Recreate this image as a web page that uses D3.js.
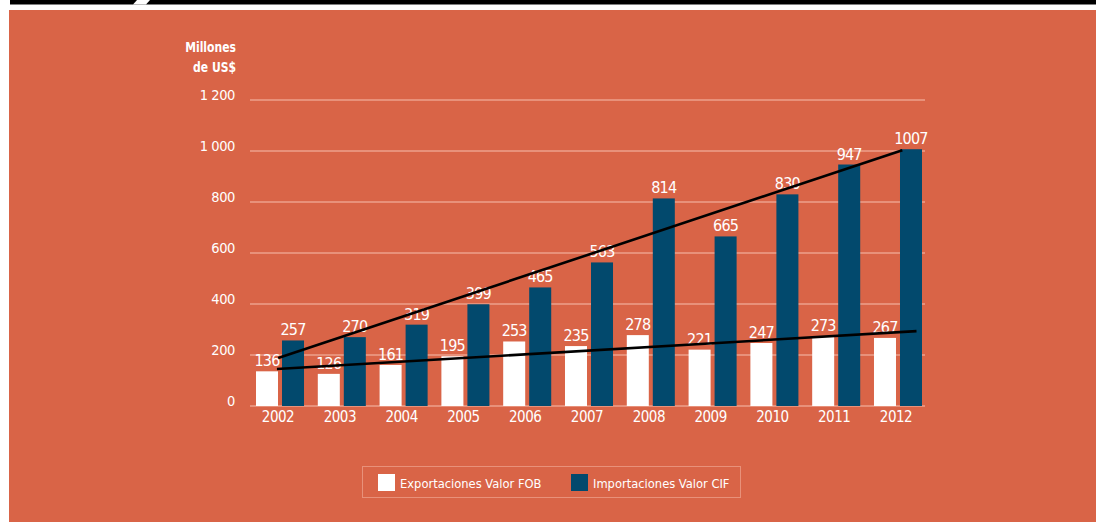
<!DOCTYPE html>
<html>
<head>
<meta charset="utf-8">
<script src="https://cdn.jsdelivr.net/npm/d3@7"></script>
<style>
  html, body { margin: 0; padding: 0; background: #ffffff; }
  svg { display: block; }
  text { font-family: "Liberation Sans Narrow", "DejaVu Sans Condensed", "Roboto", sans-serif; fill: #ffffff; }
</style>
</head>
<body>
<svg id="chart" width="1096" height="522"></svg>
<script>
// ---- data ----
const years = ["2002","2003","2004","2005","2006","2007","2008","2009","2010","2011","2012"];
const exportaciones = [136,126,161,195,253,235,278,221,247,273,267];
const importaciones = [257,270,319,399,465,563,814,665,830,947,1007];
const seriesNames = ["Exportaciones Valor FOB", "Importaciones Valor CIF"];
const yTicks = [0,200,400,600,800,1000,1200];
const yTickLabels = ["0","200","400","600","800","1 000","1 200"];

// ---- styles ----
const ORANGE = "#D96447";
const NAVY = "#02496D";
const GRID = "#E8917A";
const colors = ["#ffffff", NAVY];

const svg = d3.select("#chart");

// page frame
svg.append("rect").attr("x",0).attr("y",0).attr("width",1096).attr("height",522).attr("fill","#fff");
svg.append("rect").attr("x",10).attr("y",0).attr("width",1086).attr("height",4.5).attr("fill","#000");
svg.append("path").attr("d","M137,0 L150,0 L146,4.5 L133,4.5 Z").attr("fill","#fff");
svg.append("rect").attr("x",9).attr("y",10).attr("width",1087).attr("height",512).attr("fill",ORANGE);

// scales
const x = d3.scaleBand().domain(years).range([256, 922]).paddingInner(0.223).paddingOuter(0);
const xs = d3.scaleBand().domain([0,1]).range([0, x.bandwidth()]).paddingInner(0.154).paddingOuter(0);
const y = d3.scaleLinear().domain([0, 1200]).range([406, 100]);

// grid
const grid = svg.append("g");
grid.selectAll("line").data(yTicks).join("line")
  .attr("x1", 250).attr("x2", 925)
  .attr("y1", d => y(d)).attr("y2", d => y(d))
  .attr("stroke", GRID).attr("stroke-width", 2);

// y axis labels
const yAxis = d3.axisLeft(y).tickValues(yTicks).tickFormat((d,i) => yTickLabels[i]).tickSize(0).tickPadding(0);
const ya = svg.append("g").attr("transform","translate(235,0)").call(yAxis);
ya.select(".domain").remove();
ya.selectAll("text").style("font-size","14.5px").attr("dy","-0.05em").style("fill","#fff").style("letter-spacing","-0.4px");

// axis title
const title = svg.append("text").attr("text-anchor","end").style("font-size","14px").style("font-weight","bold")
  .attr("transform","translate(236,0) scale(0.86,1)");
title.append("tspan").attr("x",0).attr("y",52).text("Millones");
title.append("tspan").attr("x",0).attr("y",72).text("de US$");

// bars
const rows = years.map((yr,i) => ({year: yr, vals: [exportaciones[i], importaciones[i]]}));
const groups = svg.append("g").selectAll("g").data(rows).join("g")
  .attr("transform", d => `translate(${x(d.year)},0)`);
groups.selectAll("rect").data(d => d.vals).join("rect")
  .attr("x", (d,i) => xs(i)).attr("width", xs.bandwidth())
  .attr("y", d => y(d)).attr("height", d => y(0) - y(d))
  .attr("fill", (d,i) => colors[i]);

// trend lines (least squares)
function fit(vals){
  const n = vals.length, xm = (n-1)/2, ym = d3.mean(vals);
  let sxy=0, sxx=0;
  vals.forEach((v,i)=>{ sxy += (i-xm)*(v-ym); sxx += (i-xm)*(i-xm); });
  const b = sxy/sxx; return {a: ym - b*xm, b};
}
const step = x.step();
const c0 = x(years[0]) + x.bandwidth()/2;
function trend(vals, t0, t1){
  const f = fit(vals);
  return [[c0 + t0*step, y(f.a + f.b*t0)], [c0 + t1*step, y(f.a + f.b*t1)]];
}
const line = d3.line();
svg.append("path").attr("d", line(trend(exportaciones, -0.05, 10.3))).attr("stroke","#000").attr("stroke-width",2.6).attr("fill","none");
svg.append("path").attr("d", line(trend(importaciones, -0.03, 10.07))).attr("stroke","#000").attr("stroke-width",2.6).attr("fill","none");

// value labels
groups.selectAll("text.val").data(d => d.vals).join("text").attr("class","val")
  .attr("x", (d,i) => xs(i) + xs.bandwidth()/2)
  .attr("y", d => y(d) - 5)
  .attr("text-anchor","middle").style("font-size","16px").style("letter-spacing","-0.8px")
  .text(d => d);

// x labels
const xAxis = d3.axisBottom(x).tickSize(0).tickPadding(0);
const xa = svg.append("g").attr("transform","translate(-2,411)").call(xAxis);
xa.select(".domain").remove();
xa.selectAll("text").style("font-size","15px").attr("dy","0.75em").style("fill","#fff").style("letter-spacing","-0.5px");

// legend
const lg = svg.append("g");
lg.append("rect").attr("x",362.5).attr("y",466.5).attr("width",378).attr("height",31)
  .attr("fill","none").attr("stroke",GRID).attr("stroke-width",1);
const legX = [378, 571];
seriesNames.forEach((name,i) => {
  lg.append("rect").attr("x",legX[i]).attr("y",474).attr("width",17).attr("height",17).attr("fill",colors[i]);
  lg.append("text").attr("x",legX[i]+22).attr("y",487.5).style("font-size","12.8px").text(name);
});
</script>
</body>
</html>
